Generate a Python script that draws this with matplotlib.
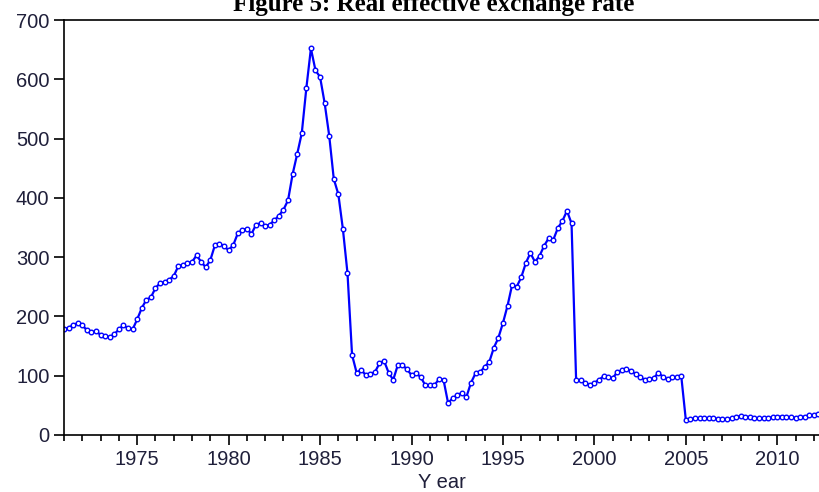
# real effective exchange rate, quarterly, 1971Q1 - 2012Q2
import matplotlib.pyplot as plt
import numpy as np

plt.rcParams['font.family'] = ['Liberation Sans', 'DejaVu Sans']

start_year = 1971
reer = [
    178, 181, 185, 189,   # 1971
    185, 177, 173, 175,   # 1972
    169, 167, 165, 170,   # 1973
    178, 185, 180, 178,   # 1974
    195, 214, 228, 232,   # 1975
    248, 256, 258, 262,   # 1976
    268, 285, 287, 290,   # 1977
    292, 303, 292, 283,   # 1978
    295, 320, 323, 318,   # 1979
    312, 320, 340, 346,   # 1980
    348, 339, 355, 357,   # 1981
    352, 355, 362, 370,   # 1982
    380, 396, 440, 474,   # 1983
    509, 585, 652, 615,   # 1984
    604, 560, 505, 432,   # 1985
    406, 347, 273, 135,   # 1986
    105, 110, 101, 103,   # 1987
    106, 121, 125, 105,   # 1988
    93, 118, 118, 111,    # 1989
    101, 104, 98, 84,     # 1990
    84, 84, 94, 93,       # 1991
    54, 62, 67, 71,       # 1992
    64, 88, 104, 106,     # 1993
    115, 123, 147, 164,   # 1994
    189, 218, 253, 250,   # 1995
    266, 290, 307, 292,   # 1996
    302, 319, 332, 329,   # 1997
    349, 361, 378, 357,   # 1998
    93, 92, 88, 84,       # 1999
    88, 93, 99, 97,       # 2000
    96, 106, 109, 111,    # 2001
    108, 103, 98, 93,     # 2002
    94, 96, 105, 98,      # 2003
    94, 97, 98, 99,       # 2004
    25, 27, 28, 28,       # 2005
    28, 28, 28, 27,       # 2006
    27, 27, 28, 30,       # 2007
    32, 31, 30, 29,       # 2008
    28, 28, 29, 30,       # 2009
    31, 31, 30, 30,       # 2010
    29, 30, 31, 33,       # 2011
    34, 35,               # 2012
]
x_ticks = [1975, 1980, 1985, 1990, 1995, 2000, 2005, 2010]
y_ticks = [0, 100, 200, 300, 400, 500, 600, 700]

t = start_year + np.arange(len(reer)) / 4.0

fig = plt.figure(figsize=(8.19, 4.92), dpi=100)
ax = fig.add_axes([64 / 819, 1 - 435 / 492, 1 - 64 / 819, (435 - 20) / 492])

ax.plot(t, reer, color='#0000ff', lw=1.6, marker='o', ms=3.3,
        mfc='white', mec='#0000ff', mew=1.0)

ax.set_xlim(1971, 2012.28)
ax.set_ylim(0, 700)
ax.set_xticks(x_ticks)
ax.set_xticks(np.arange(1971, 2013), minor=True)
ax.set_yticks(y_ticks)

label_color = '#1f1f3a'
ax.tick_params(axis='both', which='major', direction='out', length=7, width=1.2,
               labelsize=14.5, labelcolor=label_color)
ax.tick_params(axis='x', which='minor', direction='out', length=4, width=1.2)
ax.tick_params(axis='y', which='minor', left=False)
ax.spines['right'].set_visible(False)
for s in ['left', 'bottom', 'top']:
    ax.spines[s].set_linewidth(1.2)

ax.set_xlabel('Y ear', fontsize=14.5, color=label_color, labelpad=3)

fig.text(0.53, 1 - 11 / 492, 'Figure 5: Real effective exchange rate',
         ha='center', va='baseline', fontsize=18, fontweight='bold',
         family='Liberation Serif')

fig.savefig('out.png', dpi=100)
